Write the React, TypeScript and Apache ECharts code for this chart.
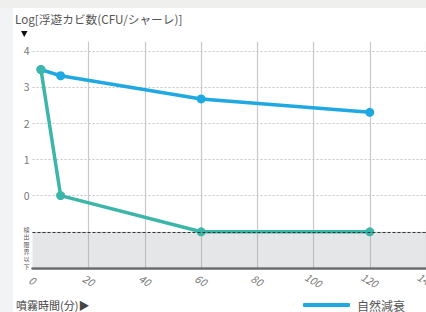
import React, { useEffect, useRef } from "react";
import * as echarts from "echarts";

const xTicks = [0, 20, 40, 60, 80, 100, 120, 140];
const yTickLabels = ["0", "1", "2", "3", "4"];
const naturalDecay: [number, number][] = [
  [3, 3.48],
  [10, 3.31],
  [60, 2.67],
  [120, 2.3],
];
const treated: [number, number][] = [
  [3, 3.48],
  [10, 0],
  [60, -1],
  [120, -1],
];
const detectionLimit = -1;
const yFloor = -2;
const legendName = "自然減衰";
const titleText = "Log[浮遊カビ数(CFU/シャーレ)]";
const xNameText = "噴霧時間(分)▶";
const limitChars = ["検", "出", "限", "界", "以", "下"];

const BLUE = "#1fa8e1";
const TEAL = "#3cb6a9";
const FONT = "'Noto Sans CJK JP', 'Noto Sans', sans-serif";

export default function App() {
  const ref = useRef<HTMLDivElement>(null);
  useEffect(() => {
    if (!ref.current) return;
    const chart = echarts.init(ref.current, undefined, { renderer: "svg" });
    chart.setOption({
      animation: false,
      backgroundColor: "#ffffff",
      textStyle: { fontFamily: FONT },
      grid: {
        left: 32.5,
        right: 0,
        top: 41.7,
        bottom: 44,
        containLabel: false,
        outerBoundsMode: "none",
      },
      xAxis: {
        type: "value",
        min: xTicks[0],
        max: xTicks[xTicks.length - 1],
        interval: 20,
        axisLine: { show: true, onZero: false, lineStyle: { color: "#6b6b6b", width: 2.5 } },
        axisTick: { show: false },
        axisLabel: {
          rotate: -30,
          align: "center",
          verticalAlign: "middle",
          margin: 12,
          color: "#777",
          fontSize: 10.5,
          fontStyle: "italic",
          fontFamily: FONT,
        },
        splitLine: {
          show: true,
          showMinLine: false,
          lineStyle: { color: "#c8c8c8", width: 1.2, type: "solid" },
        },
      },
      yAxis: {
        type: "value",
        min: yFloor,
        max: 4.25,
        interval: 1,
        axisLine: { show: false },
        axisTick: { show: false },
        axisLabel: {
          margin: 3,
          color: "#777",
          fontSize: 10.5,
          showMaxLabel: false,
          formatter: (v: number) => (yTickLabels.includes(String(v)) ? String(v) : ""),
        },
        splitLine: {
          show: true,
          showMinLine: false,
          showMaxLine: false,
          lineStyle: { color: "#c4c4c4", width: 1, type: [2, 2] },
        },
      },
      legend: {
        data: [{ name: legendName, icon: "roundRect" }],
        left: 298,
        top: 294,
        itemWidth: 47,
        itemHeight: 4,
        textStyle: { color: "#555", fontSize: 12, fontFamily: FONT, padding: [0, 0, 0, 2] },
      },
      series: [
        {
          name: legendName,
          type: "line",
          data: naturalDecay,
          symbol: "circle",
          symbolSize: 9,
          lineStyle: { color: BLUE, width: 3.5 },
          itemStyle: { color: BLUE },
          z: 3,
          markArea: {
            silent: true,
            itemStyle: { color: "rgba(150,155,165,0.25)" },
            data: [[{ yAxis: yFloor }, { yAxis: detectionLimit }]],
          },
          markLine: {
            silent: true,
            symbol: "none",
            label: { show: false },
            lineStyle: { color: "#333", width: 1, type: [3, 2] },
            data: [{ yAxis: detectionLimit }],
          },
        },
        {
          name: "treated",
          type: "line",
          data: treated,
          symbol: "circle",
          symbolSize: 9,
          lineStyle: { color: TEAL, width: 3.5 },
          itemStyle: { color: TEAL },
          z: 4,
        },
      ],
      graphic: [
        { type: "rect", shape: { x: 0, y: 0, width: 426, height: 8 }, style: { fill: "#efefed" }, silent: true },
        { type: "rect", shape: { x: 0, y: 8, width: 13, height: 304 }, style: { fill: "#f1f3f4" }, silent: true },
        {
          type: "text",
          left: 15,
          top: 13,
          style: { text: titleText, fill: "#555", fontSize: 11.7, fontFamily: FONT },
        },
        {
          type: "polygon",
          shape: { points: [[21, 31], [27.5, 31], [24.25, 37]] },
          style: { fill: "#111" },
        },
        {
          type: "text",
          left: 16,
          top: 299,
          style: { text: xNameText, fill: "#444", fontSize: 11, fontFamily: FONT },
        },
        ...limitChars.map((c, i) => ({
          type: "text",
          x: 26.5,
          y: 229.5 + i * 7.3,
          style: {
            text: c,
            fill: "#555",
            fontSize: 6,
            align: "center",
            verticalAlign: "middle",
            fontFamily: FONT,
          },
        })),
      ],
    });
    return () => chart.dispose();
  }, []);
  return <div ref={ref} style={{ width: 426, height: 312, position: "fixed", left: 0, top: 0 }} />;
}
